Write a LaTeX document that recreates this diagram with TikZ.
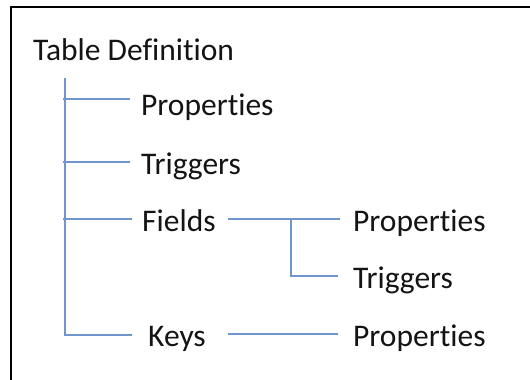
\documentclass[tikz,border=0pt]{standalone}
\usepackage{fontspec}
\setmainfont[RawFeature={-liga;-dlig;-clig}]{Carlito}
\definecolor{treeblue}{HTML}{6E96CC}
\definecolor{txt}{HTML}{141414}
\begin{document}
\begin{tikzpicture}[x=1pt,y=-1pt,
  lbl/.style={anchor=base west,inner sep=0pt,text=txt,font=\fontsize{31.5}{32}\selectfont},
  conn/.style={draw=treeblue,line width=2pt},
  frame/.style={draw=black,line width=2.6pt}]
\useasboundingbox (0,0) rectangle (530,380);
\draw[frame] (11,380) -- (11,7) -- (530,7);
% texts
\node[lbl] (root) at (33,60) {Table Definition};
\node[lbl] (props) at (141,115) {Properties};
\node[lbl] (trig) at (141,174) {Triggers};
\node[lbl] (fields) at (142,231) {Fields};
\node[lbl] (keys) at (148,346) {Keys};
\node[lbl] (fprops) at (353,231) {Properties};
\node[lbl] (ftrig) at (353,288) {Triggers};
\node[lbl] (kprops) at (353,346) {Properties};
% junction points
\coordinate (top) at (65,78);
\coordinate (cprops) at (130,99);
\coordinate (ctrig) at (130,162);
\coordinate (cfields) at (132,219);
\coordinate (ckeys) at (132,335);
\coordinate (ofields) at (228,219);
\coordinate (cfprops) at (340,219);
\coordinate (fbranch) at (291,219);
\coordinate (cftrig) at (338,276);
\coordinate (okeys) at (228,334);
\coordinate (ckprops) at (338,334);
% connectors
\draw[conn] (top) |- (ckeys);
\draw[conn] (top |- cprops) ++(-2,0) -- (cprops);
\draw[conn] (top |- ctrig) ++(-2,0) -- (ctrig);
\draw[conn] (top |- cfields) ++(-2,0) -- (cfields);
\draw[conn] (ofields) -- (cfprops);
\draw[conn] (fbranch) |- (cftrig);
\draw[conn] (okeys) -- (ckprops);
\end{tikzpicture}
\end{document}
